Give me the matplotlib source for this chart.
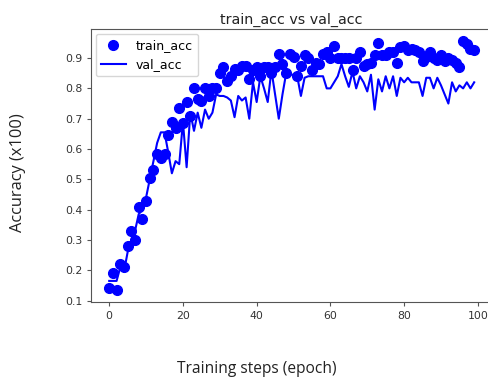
# -*- coding: utf-8 -*-
"""
train_acc vs val_acc 曲线
"""

import matplotlib
matplotlib.use('Agg')
import matplotlib.pyplot as plt
import numpy as np

# 每个 epoch 的训练准确率
train_acc = [
    0.14, 0.19, 0.135, 0.22, 0.21, 0.28, 0.33, 0.30, 0.41, 0.37,
    0.43, 0.505, 0.53, 0.585, 0.57, 0.585, 0.645, 0.69, 0.67, 0.735,
    0.685, 0.755, 0.71, 0.80, 0.765, 0.76, 0.80, 0.775, 0.80, 0.80,
    0.85, 0.87, 0.825, 0.84, 0.865, 0.86, 0.875, 0.875, 0.83, 0.86,
    0.87, 0.84, 0.87, 0.87, 0.85, 0.87, 0.915, 0.88, 0.85, 0.915,
    0.905, 0.84, 0.875, 0.91, 0.90, 0.86, 0.885, 0.88, 0.915, 0.92,
    0.90, 0.94, 0.90, 0.90, 0.90, 0.90, 0.86, 0.90, 0.92, 0.875,
    0.88, 0.885, 0.91, 0.95, 0.91, 0.91, 0.92, 0.92, 0.885, 0.935,
    0.94, 0.925, 0.93, 0.925, 0.92, 0.89, 0.905, 0.92, 0.90, 0.895,
    0.91, 0.89, 0.90, 0.895, 0.885, 0.87, 0.955, 0.945, 0.93, 0.925,
]

# 验证准确率
val_acc = [
    0.165, 0.165, 0.165, 0.21, 0.195, 0.26, 0.30, 0.33, 0.385, 0.40,
    0.44, 0.50, 0.56, 0.62, 0.655, 0.655, 0.59, 0.52, 0.56, 0.55,
    0.69, 0.54, 0.72, 0.66, 0.72, 0.67, 0.73, 0.70, 0.72, 0.78,
    0.775, 0.775, 0.77, 0.76, 0.705, 0.775, 0.76, 0.77, 0.70, 0.82,
    0.755, 0.84, 0.80, 0.755, 0.86, 0.78, 0.70, 0.78, 0.85, 0.845,
    0.845, 0.84, 0.775, 0.835, 0.84, 0.84, 0.84, 0.84, 0.84, 0.80,
    0.80, 0.82, 0.84, 0.88, 0.84, 0.805, 0.855, 0.80, 0.84, 0.82,
    0.79, 0.845, 0.73, 0.83, 0.79, 0.84, 0.80, 0.84, 0.775, 0.835,
    0.82, 0.835, 0.82, 0.82, 0.82, 0.775, 0.835, 0.835, 0.80, 0.835,
    0.81, 0.78, 0.75, 0.82, 0.79, 0.81, 0.80, 0.82, 0.80, 0.82,
]

epochs = np.arange(len(train_acc))

fig = plt.figure(figsize=(4.89, 3.79), dpi=100)
ax = fig.add_axes([0.186, 0.202, 0.821, 0.7216])

ax.plot(epochs, train_acc, 'bo', markersize=7, label='train_acc')
ax.plot(epochs, val_acc, 'b', linewidth=1.5, label='val_acc')

ax.set_title('train_acc vs val_acc', fontsize=10.3, color='#222222', pad=4)
ax.set_xticks([0, 20, 40, 60, 80, 100])
ax.set_yticks(np.arange(0.1, 0.95, 0.1))
ax.tick_params(labelsize=7.8, labelcolor='#333333', length=2.8, color='#555555')
for sp in ax.spines.values():
    sp.set_color('#555555')

ax.legend(loc='upper left', fontsize=9, borderaxespad=0.4)

# 轴标题（原图是单独加上的文字）
fig.text(0.526, 0.026, 'Training steps (epoch)', fontsize=11.2,
         family='Open Sans', color='#222222', ha='center', va='center')
fig.text(0.037, 0.544, 'Accuracy (x100)', fontsize=11.8, rotation=90,
         family='Open Sans', color='#222222', ha='center', va='center')

fig.savefig('out.png', dpi=100)
